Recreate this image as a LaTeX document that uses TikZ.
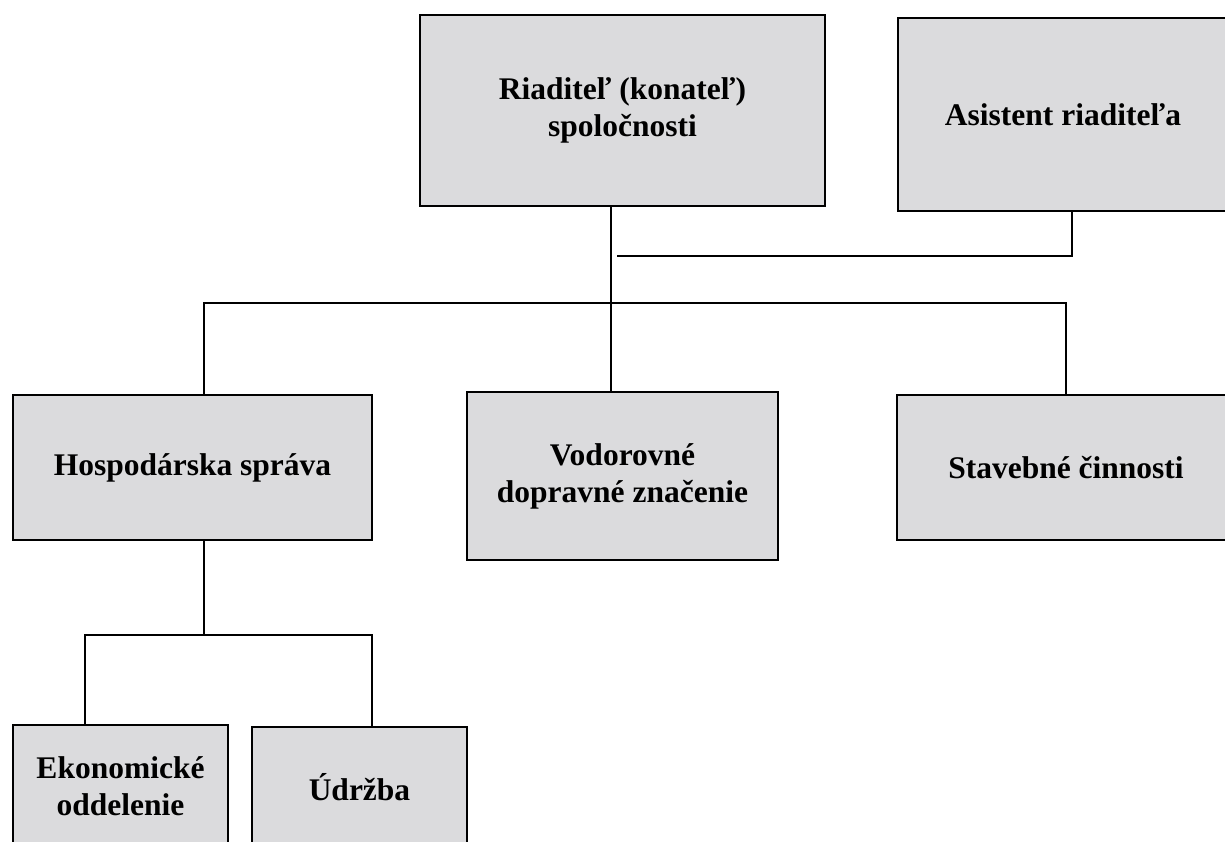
\documentclass[tikz,border=0pt]{standalone}
\usepackage{fontspec}
\setmainfont{Liberation Serif}
\definecolor{boxgray}{RGB}{219,219,221}
\begin{document}
\begin{tikzpicture}[x=1pt,y=-1pt,
	orgbox/.style={draw=black,line width=2.2pt,fill=boxgray,inner sep=0pt,align=center,
		font=\bfseries\fontsize{31.5}{37}\selectfont},
	orgline/.style={line width=1.8pt}]
				\clip (0,0) rectangle (1225,841);
				% boxes
				\node[orgbox,minimum width=405,minimum height=191] (dir) at (622.5,110.5) {Riaditeľ (konateľ)\\spoločnosti};
				\node[orgbox,minimum width=330,minimum height=193] (asist) at (1063,114.5) {Asistent riaditeľa};
				\node[orgbox,minimum width=359,minimum height=145] (hosp) at (192.5,467.5) {Hospodárska správa};
				\node[orgbox,minimum width=311,minimum height=168] (vodo) at (622.5,476) {Vodorovné\\dopravné značenie};
				\node[orgbox,minimum width=338,minimum height=145] (stav) at (1066,467.5) {Stavebné činnosti};
				\node[orgbox,minimum width=215,minimum height=122] (ekon) at (120.5,786) {Ekonomické\\oddelenie};
				\node[orgbox,minimum width=215,minimum height=120] (udrz) at (359.5,787) {Údržba};
				% bus points
				\coordinate (trunk) at (611,303);
				\coordinate (hbus) at (204,303);
				\coordinate (sbus) at (1066,303);
				\coordinate (abus) at (1072,256);
				\coordinate (aleft) at (617,256);
				\coordinate (hdown) at (204,635);
				\coordinate (ebus) at (85,635);
				\coordinate (ubus) at (372,635);
				% connectors
				\draw[orgline] (dir.south -| trunk)--(trunk) (trunk)--(vodo.north -| trunk);
				\draw[orgline] (hosp.north -| hbus)--(hbus)--(sbus)--(stav.north -| sbus);
				\draw[orgline] (asist.south -| abus)--(abus)--(aleft);
				\draw[orgline] (hosp.south -| hdown)--(hdown);
				\draw[orgline] (ekon.north -| ebus)--(ebus)--(ubus)--(udrz.north -| ubus);
	\end{tikzpicture}
\end{document}
